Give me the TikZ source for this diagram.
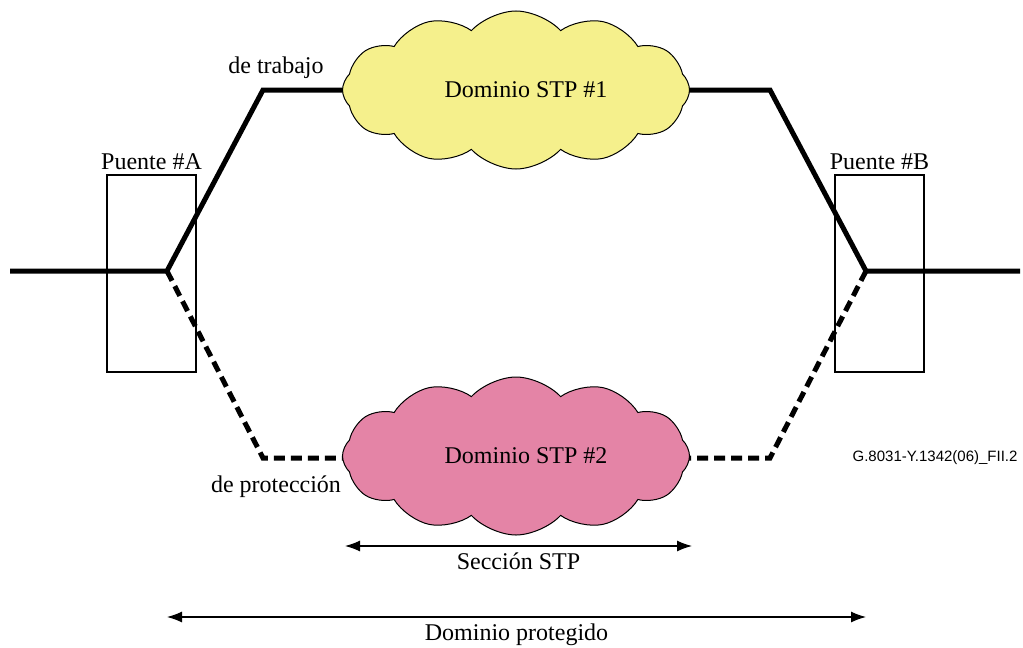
\documentclass[tikz,border=0pt]{standalone}
\usepackage{fontspec}
\setmainfont{Liberation Serif}
\setsansfont{Liberation Sans}
\usepackage{tikz}
\usetikzlibrary{shapes.symbols,arrows.meta,positioning}

\definecolor{cloudyellow}{RGB}{245,240,140}
\definecolor{cloudpink}{RGB}{228,132,166}

\tikzset{
  working/.style={line width=5pt},
  protection/.style={line width=5pt, dash pattern=on 11pt off 6pt},
  bridgebox/.style={rectangle, draw, line width=1.5pt, minimum width=89pt, minimum height=197pt},
  stpcloud/.style={cloud, draw, line width=1pt, cloud puffs=12, cloud puff arc=95,
    aspect=2.2, minimum width=347pt, minimum height=158pt, inner sep=0pt},
  span/.style={line width=1.2pt, {Latex[length=15pt,width=11pt]}-{Latex[length=15pt,width=11pt]}},
  lbl/.style={font=\fontsize{24}{27}\selectfont}
}

\begin{document}
\begin{tikzpicture}[x=1pt, y=-1pt]
            \useasboundingbox (0,0) rectangle (1023,648);

            % Nodes
            \node[bridgebox] (pA) at (151.5,273.5) {};
            \node[bridgebox] (pB) at (879.5,273.5) {};
            \node[lbl, above=1pt of pA] (lA) {Puente \#A};
            \node[lbl, above=1pt of pB] (lB) {Puente \#B};

            \coordinate (inA) at (10,271);
            \coordinate (kA) at (167,271);
            \coordinate (kB) at (866,271);
            \coordinate (inB) at (1020,271);
            \coordinate (w1) at (263,90);
            \coordinate (w2) at (770,90);
            \coordinate (p1) at (263,458);
            \coordinate (p2) at (770,458);

            % Edges (drawn under the clouds)
            \draw[working, line join=miter] (inA) -- (kA) -- (w1) -- (516,90);
            \draw[working, line join=miter] (inB) -- (kB) -- (w2) -- (516,90);
            \draw[protection] (kA) -- (p1) -- (516,458);
            \draw[protection] (kB) -- (p2) -- (516,458);

            \node[stpcloud, fill=cloudyellow, lbl] (c1) at (516,90) {\hspace{20pt}Dominio STP \#1};
            \node[stpcloud, fill=cloudpink, lbl] (c2) at (516,456) {\hspace{20pt}Dominio STP \#2};

            \node[lbl] (tw) at (276,68) {de trabajo};
            \node[lbl] (tp) at (276,487) {de protecci\'on};

            \coordinate (s1) at (345,546);
            \coordinate (s2) at (692,546);
            \draw[span] (s1) -- (s2) node[midway, below=3pt, lbl] (ts) {Secci\'on STP};
            \coordinate (d1) at (167,617);
            \coordinate (d2) at (866,617);
            \draw[span] (d1) -- (d2) node[midway, below=3pt, lbl] (td) {Dominio protegido};

            \node[font=\sffamily\fontsize{15}{17}\selectfont, anchor=east] (fig) at (1021,458) {G.8031-Y.1342(06)\_FII.2};
        \end{tikzpicture}
\end{document}
